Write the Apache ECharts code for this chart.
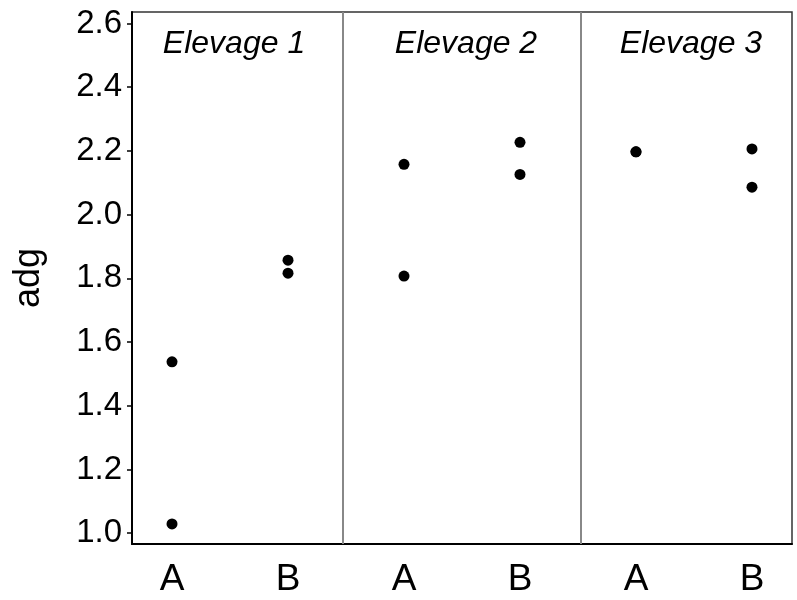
<!DOCTYPE html>
<html>
<head>
<meta charset="utf-8">
<script src="https://cdn.jsdelivr.net/npm/echarts@6/dist/echarts.min.js"></script>
<style>html,body{margin:0;padding:0;background:#fff;}#main{width:797px;height:600px;}</style>
</head>
<body>
<div id="main"></div>
<script>
// ---- data ----
const groups = ['Elevage 1', 'Elevage 2', 'Elevage 3'];
const categories = ['A', 'B'];
const elevage1A = [1.538, 1.029];
const elevage1B = [1.857, 1.816];
const elevage2A = [2.158, 1.807];
const elevage2B = [2.227, 2.126];
const elevage3A = [2.197, 2.197];
const elevage3B = [2.206, 2.086];
const yTicks = [1.0, 1.2, 1.4, 1.6, 1.8, 2.0, 2.2, 2.4, 2.6];
const yName = 'adg';

const groupValues = [[elevage1A, elevage1B], [elevage2A, elevage2B], [elevage3A, elevage3B]];

// build scatter points: x position = group*2 + category index + 1
const points = [];
const xLabels = {};
groupValues.forEach((g, gi) => {
  g.forEach((vals, ci) => {
    const xpos = gi * categories.length + ci + 1;
    xLabels[xpos] = categories[ci];
    vals.forEach(v => points.push([xpos, v]));
  });
});
const xTickPos = Object.keys(xLabels).map(Number);
const dividers = [2.47, 4.52];
const xMin = 0.655, xMax = 6.345;

const font = '"Liberation Sans", Arial, sans-serif';
const chart = echarts.init(document.getElementById('main'), null, {renderer: 'canvas'});

chart.setOption({
  animation: false,
  backgroundColor: '#fff',
  grid: {left: 132, right: 5, top: 12, bottom: 56, containLabel: false, outerBoundsMode: 'none',
         show: true, borderColor: '#333', borderWidth: 1.5, backgroundColor: 'transparent'},
  xAxis: {
    type: 'value', min: xMin, max: xMax,
    splitLine: {show: false},
    axisLine: {show: true, onZero: false, lineStyle: {color: '#000', width: 2}},
    axisTick: {show: false},
    axisLabel: {
      customValues: xTickPos,
      formatter: v => xLabels[Math.round(v)] || '',
      color: '#000', fontSize: 37, fontFamily: font, margin: 17
    }
  },
  yAxis: {
    type: 'value', min: 0.966, max: 2.636,
    name: yName, nameLocation: 'middle', nameGap: 85,
    nameTextStyle: {color: '#000', fontSize: 36, fontFamily: font},
    splitLine: {show: false},
    axisLine: {show: true, onZero: false, lineStyle: {color: '#000', width: 2}},
    axisTick: {show: true, length: 5, customValues: yTicks, lineStyle: {color: '#000', width: 1.5}},
    axisLabel: {
      customValues: yTicks,
      formatter: v => v.toFixed(1),
      color: '#000', fontSize: 33, fontFamily: font, margin: 10
    }
  },
  series: [{
    type: 'scatter',
    data: points,
    symbol: 'circle',
    symbolSize: 11,
    itemStyle: {color: '#000', opacity: 1},
    markLine: {
      silent: true,
      symbol: ['none', 'none'],
      label: {show: false},
      lineStyle: {color: '#888', width: 2, type: 'solid', opacity: 1},
      data: dividers.map(d => ({xAxis: d}))
    }
  }]
});

// panel titles placed via axis conversion
const titleOffsets = [4, 4, -3];
const titleY = chart.convertToPixel({yAxisIndex: 0}, 2.535);
const graphics = groups.map((g, i) => {
  const center = (i * categories.length + 1 + i * categories.length + categories.length) / 2;
  const px = chart.convertToPixel({xAxisIndex: 0}, center) + titleOffsets[i];
  return {
    type: 'text', x: px, y: titleY,
    style: {text: g, fill: '#000', font: 'italic 32px ' + font, textAlign: 'center', textVerticalAlign: 'middle'}
  };
});
chart.setOption({graphic: graphics});
</script>
</body>
</html>
